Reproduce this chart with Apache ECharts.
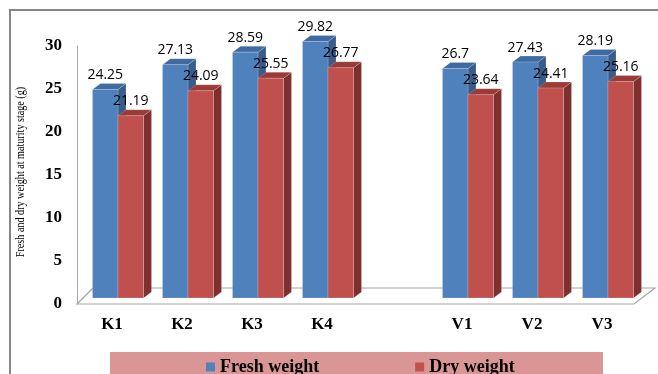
<!DOCTYPE html>
<html>
<head>
<meta charset="utf-8">
<script src="https://cdn.jsdelivr.net/npm/echarts@6/dist/echarts.min.js"></script>
<style>
  html, body { margin: 0; padding: 0; background: #fff; }
  #chart { width: 658px; height: 374px; }
</style>
</head>
<body>
<div id="chart"></div>
<script>
// Treatments (an empty slot separates the K and V groups)
const categories = ['K1', 'K2', 'K3', 'K4', '', 'V1', 'V2', 'V3'];
// Weights at maturity stage (g)
const freshWeight = [24.25, 27.13, 28.59, 29.82, null, 26.7, 27.43, 28.19];
const dryWeight = [21.19, 24.09, 25.55, 26.77, null, 23.64, 24.41, 25.16];
const yTicks = { min: 0, max: 30, interval: 5 };

const GRID = { left: 77, top: 46, width: 560, height: 258 };
const SERIF = '"Liberation Serif", "Times New Roman", serif';

// Face colours for the pseudo-3D columns: front, side, top
const palette = [
  { front: '#4F81BD', side: '#385D8A', top: '#3F6AA2' },
  { front: '#C0504D', side: '#7D302E', top: '#9A3B38' }
];

function makeRender(s) {
  return function (params, api) {
    const v = api.value(1);
    if (v == null || isNaN(v)) return;
    const i = api.value(0);
    const p0 = api.coord([i, 0]);
    const p1 = api.coord([i, v]);
    const cx = p0[0];
    const w = 25.5;
    const x0 = s === 0 ? cx - 19.5 : cx + 6;
    const x1 = x0 + w;
    const yb = p0[1] - 6;
    const yt = p1[1] - 6;
    const dx = 8, dy = 6;
    const c = palette[s];
    return {
      type: 'group',
      children: [
        { type: 'polygon', shape: { points: [[x1, yb], [x1 + dx, yb - dy], [x1 + dx, yt - dy], [x1, yt]] },
          style: { fill: c.side, stroke: 'rgba(255,255,255,0.35)', lineWidth: 0.5 } },
        { type: 'polygon', shape: { points: [[x0, yt], [x0 + dx, yt - dy], [x1 + dx, yt - dy], [x1, yt]] },
          style: { fill: c.top, stroke: 'rgba(255,255,255,0.35)', lineWidth: 0.5 } },
        { type: 'rect', shape: { x: x0, y: yt, width: w, height: yb - yt },
          style: { fill: c.front, stroke: 'rgba(255,255,255,0.35)', lineWidth: 0.5 } },
        { type: 'text', z2: 10,
          style: { text: String(v), x: (x0 + x1) / 2, y: yt - 14.5, align: 'center', verticalAlign: 'middle',
                   fill: '#000', font: '14px "Open Sans", "Liberation Sans", sans-serif' } }
      ]
    };
  };
}

const toPairs = arr => arr.map((v, i) => [i, v]);

// Floor of the plot area, drawn from the grid box
const fx0 = GRID.left, fx1 = GRID.left + GRID.width - 3, fy = GRID.top + GRID.height;

const chart = echarts.init(document.getElementById('chart'), null, { renderer: 'canvas' });
chart.setOption({
  backgroundColor: '#fff',
  animation: false,
  grid: GRID,
  xAxis: {
    type: 'category',
    data: categories,
    axisLine: { show: false },
    axisTick: { show: false },
    axisLabel: { margin: 12, color: '#000', fontFamily: SERIF, fontWeight: 'bold', fontSize: 17 }
  },
  yAxis: {
    type: 'value',
    min: yTicks.min, max: yTicks.max, interval: yTicks.interval,
    axisLine: { show: true, lineStyle: { color: '#a6a6a6', width: 1 } },
    axisTick: { show: false },
    splitLine: { show: false },
    axisLabel: { margin: 15, color: '#000', fontFamily: SERIF, fontWeight: 'bold', fontSize: 17 }
  },
  legend: {
    data: ['Fresh weight', 'Dry weight'],
    left: 201, top: 353,
    icon: 'rect', itemWidth: 9, itemHeight: 9, itemGap: 96,
    textStyle: { color: '#000', fontFamily: SERIF, fontWeight: 'bold', fontSize: 18, padding: [2, 0, 0, 0] }
  },
  graphic: [
    { type: 'rect', z: -10, shape: { x: 10, y: 10, width: 660, height: 380 },
      style: { fill: 'none', stroke: '#868686', lineWidth: 2 } },
    { type: 'rect', z: -5, shape: { x: 110, y: 352, width: 493, height: 30 },
      style: { fill: '#D99694' } },
    { type: 'polyline', z: -1,
      shape: { points: [[fx0 + 16, fy - 16], [fx0, fy], [fx1, fy], [fx1 + 21, fy - 16], [fx0 + 16, fy - 16]] },
      style: { fill: '#fff', stroke: '#a6a6a6', lineWidth: 1.2 } },
    { type: 'text', x: 21, y: 172, rotation: Math.PI / 2, scaleX: 0.78,
      style: { text: 'Fresh and dry weight at maturity stage (g)', align: 'center', verticalAlign: 'middle',
               fill: '#000', font: '13px ' + SERIF } }
  ],
  series: [
    { name: 'Fresh weight', type: 'custom', renderItem: makeRender(0), data: toPairs(freshWeight),
      encode: { x: 0, y: 1 }, itemStyle: { color: palette[0].front }, clip: false },
    { name: 'Dry weight', type: 'custom', renderItem: makeRender(1), data: toPairs(dryWeight),
      encode: { x: 0, y: 1 }, itemStyle: { color: palette[1].front }, clip: false }
  ]
});
</script>
</body>
</html>
